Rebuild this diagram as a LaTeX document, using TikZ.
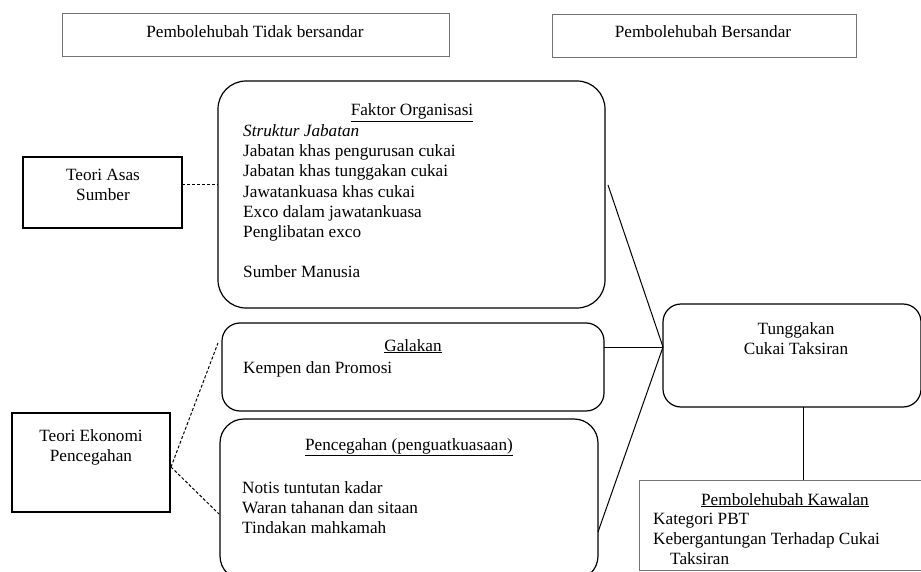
\documentclass[tikz,border=0pt]{standalone}
\usepackage{fontspec}
\setmainfont{Liberation Serif}
\usepackage{tikz}
\usetikzlibrary{calc}
\usetikzlibrary{positioning}

\tikzset{
  sqbox/.style={draw=black, line width=1.2pt, rectangle, inner sep=0pt},
  greybox/.style={draw=black!55, line width=0.9pt, rectangle, inner sep=0pt},
  rbox/.style={draw=black, line width=1.2pt, rectangle, rounded corners=#1, inner sep=0pt},
  txt/.style={inner sep=0pt, font=\fontsize{17.2}{20.2}\selectfont},
  link/.style={draw=black, line width=1pt},
  dlink/.style={draw=black, line width=1pt, dash pattern=on 3pt off 2pt},
}

\begin{document}
\begin{tikzpicture}[x=1pt, y=-1pt]
    \useasboundingbox (0,0) rectangle (921,572);
    % boxes
    \node[greybox, minimum width=387pt, minimum height=43pt] (indep) at (255.5,34.5) {};
    \node[greybox, minimum width=304pt, minimum height=43pt] (dep) at (704,35.5) {};
    \node[sqbox, minimum width=159pt, minimum height=71pt] (asas) at (102.5,192.5) {};
    \node[rbox=28pt, minimum width=387pt, minimum height=227pt] (faktor) at (411.5,194.5) {};
    \node[rbox=18pt, minimum width=382pt, minimum height=88pt] (galakan) at (413,367) {};
    \node[rbox=24pt, minimum width=378pt, minimum height=161pt] (cegah) at (409,499.5) {};
    \node[sqbox, minimum width=158pt, minimum height=99pt] (ekonomi) at (91,462.5) {};
    \node[rbox=18pt, minimum width=258pt, minimum height=103pt] (tunggak) at (792,355.5) {};
    \node[greybox, minimum width=330pt, minimum height=90pt] (kawalan) at (804,525) {};
    % texts
    \node[txt, anchor=base] (indepT) at (255,38) {Pembolehubah Tidak bersandar};
    \node[txt, anchor=base] (depT) at (703,38) {Pembolehubah Bersandar};
    \node[txt, anchor=north, align=center] (asasT) at (103,169) {Teori Asas\\Sumber};
    \node[txt, anchor=base] (faktorT) at (412,116) {\underline{Faktor Organisasi}};
    \node[txt, anchor=north west, align=left] (faktorL) at (243,124.3)
      {\textit{Struktur Jabatan}\\Jabatan khas pengurusan cukai\\Jabatan khas tunggakan cukai\\
       Jawatankuasa khas cukai\\Exco dalam jawatankuasa\\Penglibatan exco\\[20.2pt]Sumber Manusia};
    \node[txt, anchor=base] (galakanT) at (413,351) {\underline{Galakan}};
    \node[txt, anchor=base west] (galakanL) at (243,373) {Kempen dan Promosi};
    \node[txt, anchor=base] (cegahT) at (409,450) {\underline{Pencegahan (penguatkuasaan)}};
    \node[txt, anchor=north west, align=left] (cegahL) at (242,481)
      {Notis tuntutan kadar\\Waran tahanan dan sitaan\\Tindakan mahkamah};
    \node[txt, anchor=north, align=center] (ekonomiT) at (91,429) {Teori Ekonomi\\Pencegahan};
    \node[txt, anchor=north, align=center] (tunggakT) at (796,322) {Tunggakan\\Cukai Taksiran};
    \node[txt, anchor=base] (kawalanT) at (785,505) {\underline{Pembolehubah Kawalan}};
    \node[txt, anchor=north west, align=left] (kawalanL) at (653,513)
      {Kategori PBT\\Kebergantungan Terhadap Cukai\\\hspace{17pt}Taksiran};
    % connector ends
    \coordinate (asasR) at (182,185);
    \coordinate (ekoR) at (171,467);
    \coordinate (galIn) at (218,343);
    \coordinate (cegIn) at (219,514);
    \coordinate (fakR) at (608,185);
    \coordinate (galR) at (604,347);
    \coordinate (cegR) at (598,532);
    \coordinate (tkL) at (663,347);
    \coordinate (tkB) at (803,407);
    % connectors
    \path [dlink] (asasR) edge (asasR -| faktor.west);
    \path [dlink] (ekoR) edge (galIn);
    \path [dlink] (ekoR) edge (cegIn);
    \path [link] (fakR) edge (tkL);
    \path [link] (galR) edge (tkL);
    \path [link] (cegR) edge (tkL);
    \path [link] (tkB) edge (tkB |- kawalan.north);
  \end{tikzpicture}
\end{document}
